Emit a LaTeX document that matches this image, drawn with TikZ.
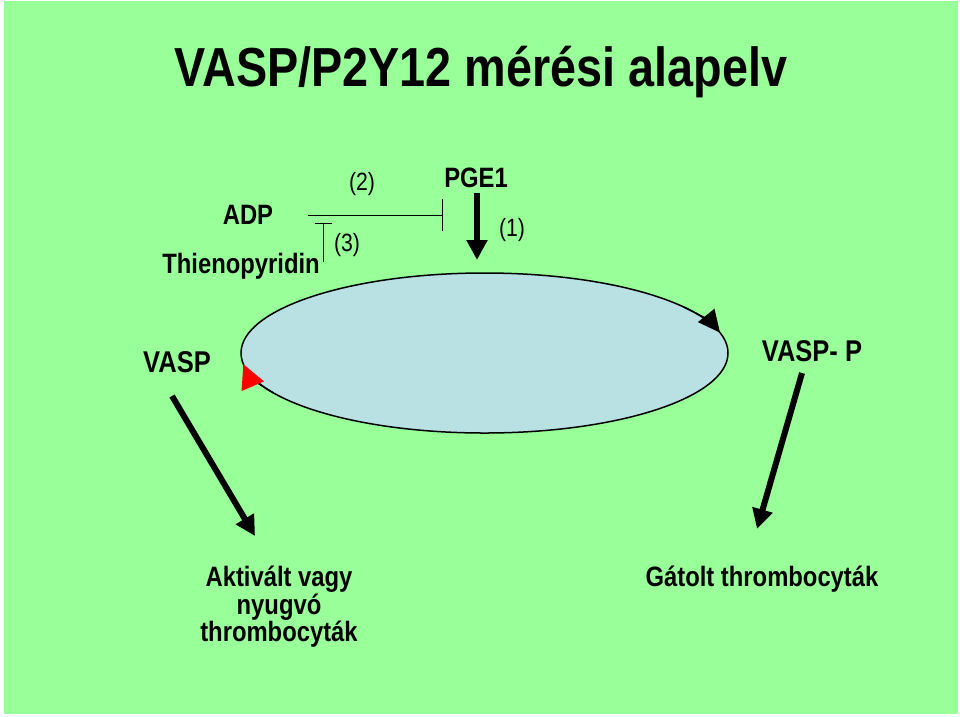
\documentclass[tikz,border=0pt]{standalone}
\usepackage{fontspec}
\setmainfont{Liberation Sans}
\newfontfamily\nfont[FakeStretch=0.85]{Liberation Sans}
\usetikzlibrary{arrows.meta,shapes.geometric}
\definecolor{bggreen}{RGB}{153,255,153}
\definecolor{cellblue}{RGB}{185,224,226}
\begin{document}
\begin{tikzpicture}[x=1pt,y=-1pt,
  lbl/.style={font=\nfont\fontsize{28}{32}\selectfont\bfseries, inner sep=0pt},
  big/.style={font=\nfont\fontsize{30}{34}\selectfont\bfseries, inner sep=0pt},
  num/.style={font=\nfont\fontsize{25}{29}\selectfont, inner sep=0pt},
  fatarrow/.style={line width=6pt, -{Triangle[length=20pt 0 0,width=20pt 0 0]}},
  inhib/.style={line width=1pt}]
\useasboundingbox (0,0) rectangle (960,716);
\fill[white] (0,0) rectangle (960,716);
\fill[bggreen] (4,1) rectangle (958,714);
% title
\node[font=\nfont\fontsize{55}{60}\selectfont\bfseries, inner sep=0pt] (title) at (481,72) {VASP/P2Y12 mérési alapelv};
% labels
\node[lbl] (adp) at (248,215) {ADP};
\node[lbl] (thieno) at (241,266) {Thienopyridin};
\node[lbl] (pge) at (476,178) {PGE1};
\node[num] (n2) at (362,184) {(2)};
\node[num] (n3) at (347,245) {(3)};
\node[num] (n1) at (512,230) {(1)};
\node[big] (vasp) at (177,362) {VASP};
\node[big] (vaspp) at (812,351) {VASP- P};
\node[lbl, align=center, font=\nfont\fontsize{28}{27.5}\selectfont\bfseries] (akt) at (279,607) {Aktivált vagy\\nyugvó\\thrombocyták};
\node[lbl] (gat) at (762,579) {Gátolt thrombocyták};
% cycle
\node[ellipse, draw, line width=1.5pt, fill=cellblue, minimum width=487pt, minimum height=160pt, inner sep=0pt] (cell) at (484.5,353) {};
\coordinate (bS) at (684,307.1);
\coordinate (rS) at (273.6,393);
\draw[line width=1.5pt, -{Triangle[length=22pt 0 0,width=21pt 0 0]}] (bS) arc[start angle=-35, end angle=-14.8, x radius=243.5, y radius=80];
\draw[line width=1.5pt, -{Triangle[length=24pt 0 0,width=24pt 0 0,red]}] (rS) arc[start angle=150, end angle=172, x radius=243.5, y radius=80];
% inhibitions
\coordinate (adpS) at (308,215);
\coordinate (adpE) at (443,215);
\draw[inhib, -{Bar[width=32pt 0 0]}] (adpS) -- (adpE);
\coordinate (tS) at (323,262);
\coordinate (tE) at (323,223);
\draw[inhib, -{Bar[width=17pt 0 0]}] (tS) -- (tE);
% PGE1 arrow
\coordinate (pS) at (477,193);
\coordinate (pE) at (477,260);
\draw[fatarrow] (pS) -- (pE);
% output arrows
\coordinate (a1S) at (172,396);
\coordinate (a1E) at (255,536);
\draw[fatarrow] (a1S) -- (a1E);
\coordinate (a2S) at (802,373);
\coordinate (a2E) at (757,529);
\draw[fatarrow] (a2S) -- (a2E);
\end{tikzpicture}
\end{document}
